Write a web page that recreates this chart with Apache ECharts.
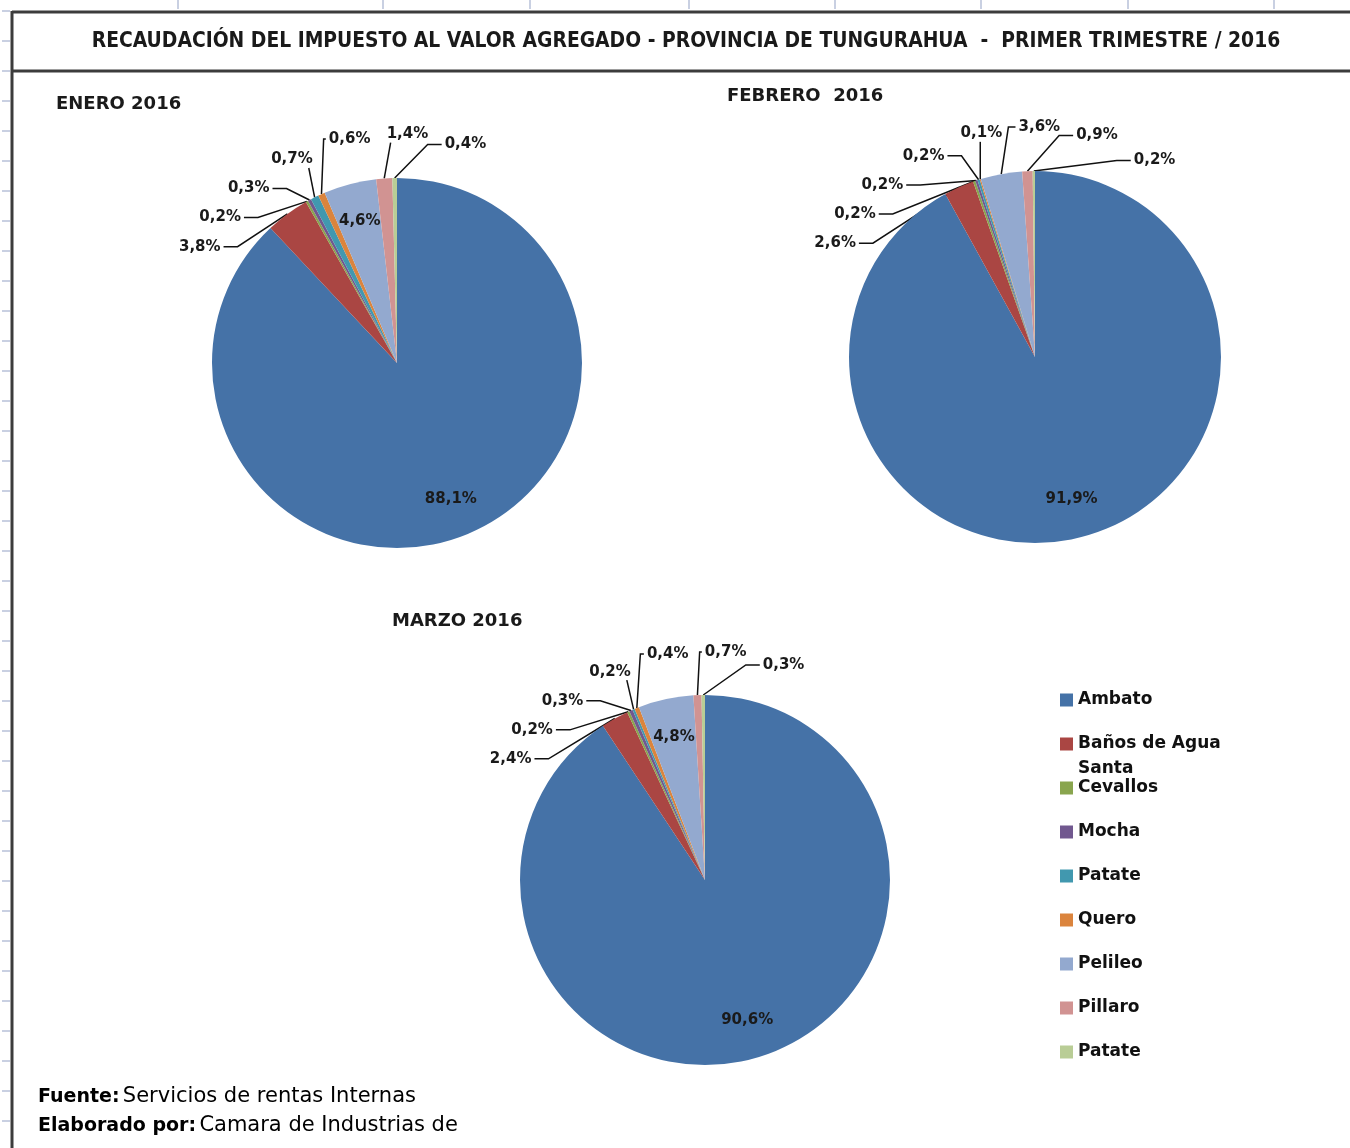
<!DOCTYPE html>
<html><head><meta charset="utf-8">
<script src="https://cdn.jsdelivr.net/npm/echarts@6/dist/echarts.min.js"></script>
<style>html,body{margin:0;padding:0;background:#fff}#c{width:1350px;height:1148px}</style>
</head><body><div id="c"></div><script>
// ---- data ----
const categories = ['Ambato','Baños de Agua Santa','Cevallos','Mocha','Patate','Quero','Pelileo','Pillaro','Patate'];
const colors = ['#4572A7','#AA4643','#89A54E','#71588F','#4198AF','#DB843D','#93A9CF','#D19392','#B9CD96'];
const months = ['ENERO 2016','FEBRERO  2016','MARZO 2016'];
const enero = [88.1,3.8,0.2,0.3,0.7,0.6,4.6,1.4,0.4];
const febrero = [91.9,2.6,0.2,0.2,0.2,0.1,3.6,0.9,0.2];
const marzo = [90.6,2.4,0.2,0.3,0.2,0.4,4.8,0.7,0.3];
const title = 'RECAUDACIÓN DEL IMPUESTO AL VALOR AGREGADO - PROVINCIA DE TUNGURAHUA  -  PRIMER TRIMESTRE / 2016';
const fuente = 'Servicios de rentas Internas';
const elaborado = 'Camara de Industrias de';

// ---- layout ----
const FONT = "'DejaVu Sans', sans-serif";
const TITLE_FONT = "'Liberation Sans Narrow', 'DejaVu Sans Condensed', 'DejaVu Sans', sans-serif";
const pies = [
  {vals: enero, center: [397, 363], r: 185, title: [56, 104]},
  {vals: febrero, center: [1035, 357], r: 186, title: [727, 96]},
  {vals: marzo, center: [705, 880], r: 185, title: [392, 621]}
];
const keys = categories.map((c, i) => c + ' '.repeat(categories.slice(0, i).filter(x => x === c).length));
const fmt = p => p.value.toFixed(1).replace('.', ',') + '%';
const INSIDE = 4;

// title size fitted to the reference width
const mctx = document.createElement('canvas').getContext('2d');
mctx.font = 'bold 100px ' + TITLE_FONT;
const titleSize = 100 * 1189 / mctx.measureText(title).width;

// label sizes recorded on first pass, placement computed from the library's slice layout
const sizes = {};
let placement = null;
function labelLayoutFn(params) {
  const key = params.seriesIndex + '_' + params.dataIndex;
  if (!placement) { sizes[key] = {w: params.labelRect.width, h: params.labelRect.height}; return {}; }
  const pl = placement[key];
  if (!pl) return {};
  return {x: pl.x, y: pl.y, align: 'center', verticalAlign: 'middle', labelLinePoints: pl.line};
}

function computePlacement(chart) {
  const model = chart.getModel();
  const out = {};
  pies.forEach((p, si) => {
    const data = model.getSeriesByIndex(si).getData();
    const items = [];
    for (let j = 0; j < data.count(); j++) {
      if (p.vals[j] > INSIDE) continue;
      const L = data.getItemLayout(j);
      const sz = sizes[si + '_' + j] || {w: 40, h: 17};
      items.push({j, phi: (L.startAngle + L.endAngle) / 2, cx: L.cx, cy: L.cy, r: L.r, w: sz.w, h: sz.h});
    }
    items.sort((a, b) => a.phi - b.phi);
    const Rl = p.r + 44;
    const pos = (it, ph) => [it.cx + Rl * Math.cos(ph), it.cy + Rl * Math.sin(ph)];
    const overlap = (a, pa, b, pb) => Math.abs(pa[0] - pb[0]) < (a.w + b.w) / 2 + 16 && Math.abs(pa[1] - pb[1]) < (a.h + b.h) / 2 + 14;
    let best = null;
    for (let s = 0; s <= 1.4; s += 0.004) {
      const ph = [];
      items.forEach((it, k) => {
        let t = it.phi - s;
        if (k > 0) {
          t = Math.max(t, ph[k - 1]);
          while (overlap(items[k - 1], pos(items[k - 1], ph[k - 1]), it, pos(it, t))) t += 0.002;
        }
        ph.push(t);
      });
      const cost = items.reduce((c, it, k) => c + (ph[k] - it.phi) ** 2, 0);
      if (!best || cost < best.cost) best = {cost, ph};
    }
    items.forEach((it, k) => {
      const [lx, ly] = pos(it, best.ph[k]);
      const A = [it.cx + it.r * Math.cos(it.phi), it.cy + it.r * Math.sin(it.phi)];
      const left = lx - it.w / 2, right = lx + it.w / 2;
      let p1, p2;
      if (A[0] > right + 3) {
        p2 = [right + 3, ly]; p1 = [p2[0] + Math.min(14, (A[0] - p2[0]) * 0.5), ly];
      } else if (A[0] < left - 3) {
        p2 = [left - 3, ly]; p1 = [p2[0] - Math.min(14, (p2[0] - A[0]) * 0.5), ly];
      } else {
        p2 = [Math.min(Math.max(A[0], left + 4), right - 4), ly + it.h / 2 + 1]; p1 = p2.slice();
      }
      out[si + '_' + it.j] = {x: lx, y: ly, line: [A, p1, p2]};
    });
  });
  return out;
}

function buildOption() {
  const series = [];
  pies.forEach(p => {
    series.push({
      type: 'pie', center: p.center, radius: [0, p.r], startAngle: 90, clockwise: true,
      avoidLabelOverlap: false, minShowLabelAngle: 0, silent: true,
      emphasis: {disabled: true}, itemStyle: {borderWidth: 0},
      label: {position: 'outside', formatter: fmt, color: '#1a1a1a', fontFamily: FONT, fontWeight: 'bold', fontSize: 15},
      labelLine: {length: 14, length2: 16, lineStyle: {color: '#111', width: 1.5}},
      labelLayout: labelLayoutFn,
      data: keys.map((k, i) => ({
        name: k, value: p.vals[i], itemStyle: {color: colors[i]},
        label: {show: p.vals[i] <= INSIDE}, labelLine: {show: p.vals[i] <= INSIDE}
      }))
    });
  });
  pies.forEach(p => {
    series.push({
      type: 'pie', center: p.center, radius: [p.r * 0.55, p.r], startAngle: 90, clockwise: true,
      silent: true, emphasis: {disabled: true}, legendHoverLink: false,
      itemStyle: {color: 'rgba(0,0,0,0)', borderWidth: 0},
      label: {position: 'inside', formatter: fmt, color: '#1a1a1a', fontFamily: FONT, fontWeight: 'bold', fontSize: 15},
      labelLine: {show: false},
      data: keys.map((k, i) => ({name: k, value: p.vals[i], label: {show: p.vals[i] > INSIDE}}))
    });
  });

  const graphic = [];
  const tickColor = '#c9d0e2';
  [178, 383, 530, 689, 835, 981, 1128, 1274].forEach(x => graphic.push({type: 'line', shape: {x1: x, y1: 0, x2: x, y2: 9}, style: {stroke: tickColor, lineWidth: 2}}));
  for (let y = 11; y < 1148; y += 30) graphic.push({type: 'line', shape: {x1: 2, y1: y, x2: 10, y2: y}, style: {stroke: tickColor, lineWidth: 2}});
  graphic.push({type: 'line', shape: {x1: 12, y1: 12, x2: 1350, y2: 12}, style: {stroke: '#3c3c3c', lineWidth: 3}});
  graphic.push({type: 'line', shape: {x1: 12, y1: 71, x2: 1350, y2: 71}, style: {stroke: '#3c3c3c', lineWidth: 3}});
  graphic.push({type: 'line', shape: {x1: 12, y1: 11, x2: 12, y2: 1148}, style: {stroke: '#3c3c3c', lineWidth: 3}});
  graphic.push({type: 'text', x: 686, y: 42, style: {text: title, textAlign: 'center', textVerticalAlign: 'middle',
    font: 'bold ' + titleSize.toFixed(2) + 'px ' + TITLE_FONT, fill: '#1a1a1a'}});
  pies.forEach((p, i) => graphic.push({type: 'text', x: p.title[0], y: p.title[1], style: {text: months[i], textVerticalAlign: 'middle',
    font: 'bold 18px ' + FONT, fill: '#1a1a1a'}}));
  const rich = {b: {fontFamily: FONT, fontWeight: 'bold', fontSize: 19, color: '#1a1a1a'}, r: {fontFamily: FONT, fontSize: 21, color: '#1a1a1a'}};
  graphic.push({type: 'text', x: 38, y: 1097, style: {text: '{b|Fuente:} {r|' + fuente + '}', textVerticalAlign: 'middle', rich}});
  graphic.push({type: 'text', x: 38, y: 1126, style: {text: '{b|Elaborado por:} {r|' + elaborado + '}', textVerticalAlign: 'middle', rich}});

  const legendBase = {orient: 'vertical', left: 1060, padding: 0, itemGap: 19, itemWidth: 13, itemHeight: 13, icon: 'rect',
    selectedMode: false, formatter: n => n.trim()};
  const legendText = {fontFamily: FONT, fontWeight: 'bold', fontSize: 17, color: '#111', lineHeight: 25};
  return {
    backgroundColor: '#ffffff',
    animation: false,
    legend: [
      Object.assign({}, legendBase, {top: 687.5, data: keys.slice(0, 1), textStyle: legendText}),
      // wrapped name: a leading blank line keeps the first text line level with the swatch
      Object.assign({}, legendBase, {top: 706.5, data: keys.slice(1, 2), formatter: n => '\n' + n.trim(),
        textStyle: Object.assign({}, legendText, {width: 160, overflow: 'break'})}),
      Object.assign({}, legendBase, {top: 775.5, data: keys.slice(2), textStyle: legendText})
    ],
    series: series,
    graphic: graphic
  };
}

const chart = echarts.init(document.getElementById('c'), null, {renderer: 'canvas'});
chart.setOption(buildOption());
placement = computePlacement(chart);
chart.setOption(buildOption(), true);
</script></body></html>
